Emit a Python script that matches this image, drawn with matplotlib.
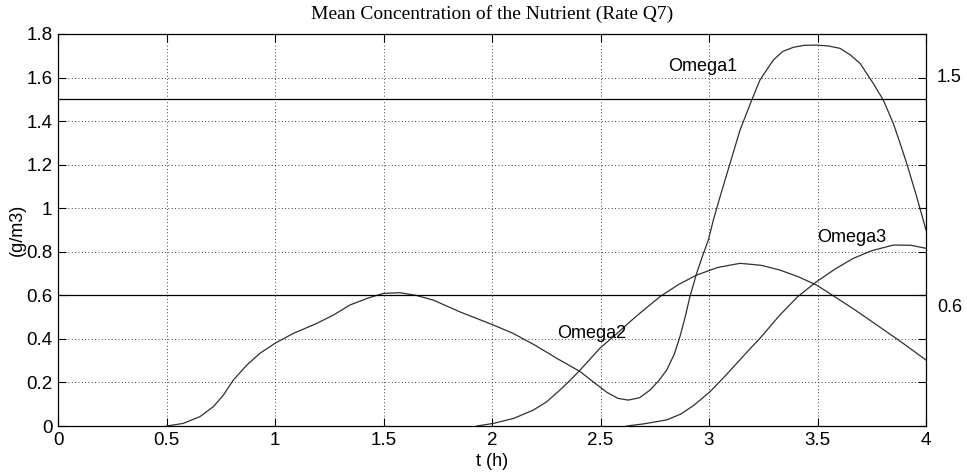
import matplotlib.pyplot as plt

# Omega1
t1 = [0.5, 0.577, 0.654, 0.716, 0.762, 0.808, 0.87, 0.931, 1.0, 1.084, 1.192, 1.27,
      1.346, 1.43, 1.50, 1.576, 1.65, 1.73, 1.85, 2.006, 2.098, 2.20, 2.30, 2.406, 2.47,
      2.529, 2.58, 2.628, 2.68, 2.728, 2.77, 2.805, 2.84, 2.866, 2.89, 2.912, 2.943,
      2.97, 2.997, 3.02, 3.051, 3.097, 3.143, 3.197, 3.235, 3.296, 3.34, 3.389, 3.44,
      3.496, 3.55, 3.604, 3.65, 3.696, 3.757, 3.803, 3.849, 3.88, 3.911, 3.957, 4.0]
c1 = [0.0, 0.012, 0.043, 0.089, 0.142, 0.211, 0.28, 0.334, 0.38, 0.425, 0.471, 0.51,
      0.556, 0.588, 0.609, 0.612, 0.60, 0.578, 0.525, 0.464, 0.425, 0.37, 0.31, 0.25, 0.2,
      0.155, 0.127, 0.119, 0.13, 0.165, 0.21, 0.257, 0.33, 0.41, 0.50, 0.594, 0.701,
      0.78, 0.854, 0.946, 1.053, 1.206, 1.359, 1.497, 1.589, 1.68, 1.72, 1.739, 1.748,
      1.749, 1.745, 1.734, 1.705, 1.665, 1.573, 1.497, 1.39, 1.30, 1.206, 1.053, 0.90]

# Omega2
t2 = [1.93, 2.006, 2.10, 2.19, 2.25, 2.313, 2.36, 2.406, 2.50, 2.559, 2.66, 2.774,
      2.86, 2.943, 3.04, 3.143, 3.24, 3.327, 3.41, 3.496, 3.573, 3.67, 3.773, 3.88, 4.0]
c2 = [0.0, 0.012, 0.035, 0.073, 0.11, 0.165, 0.21, 0.257, 0.36, 0.41, 0.50, 0.594,
      0.65, 0.693, 0.728, 0.747, 0.738, 0.716, 0.686, 0.647, 0.598, 0.535, 0.464,
      0.39, 0.303]

# Omega3
t3 = [2.62, 2.70, 2.805, 2.87, 2.93, 3.005, 3.07, 3.128, 3.18, 3.235, 3.327, 3.41,
      3.496, 3.58, 3.665, 3.75, 3.85, 3.93, 4.0]
c3 = [0.0, 0.01, 0.028, 0.055, 0.095, 0.158, 0.225, 0.288, 0.345, 0.403, 0.51, 0.595,
      0.663, 0.72, 0.77, 0.805, 0.831, 0.83, 0.816]

limits = [1.5, 0.6]
labels = ["Omega1", "Omega2", "Omega3"]
label_pos = [(2.81, 1.61), (2.30, 0.385), (3.50, 0.825)]

fig = plt.figure(figsize=(9.67, 4.76), dpi=100)
ax = fig.add_axes([0.060, 0.105, 0.8976, 0.8236])

for t, c in [(t1, c1), (t2, c2), (t3, c3)]:
    ax.plot(t, c, color='#303030', lw=0.9)
for v in limits:
    ax.axhline(v, color='black', lw=0.9)

for name, (x, y) in zip(labels, label_pos):
    ax.text(x, y, name, fontsize=13, family='Liberation Sans', va='bottom', ha='left')

ax.text(4.05, 1.60, "1.5", fontsize=13, family='Liberation Sans', va='center')
ax.text(4.05, 0.545, "0.6", fontsize=13, family='Liberation Sans', va='center')

ax.set_xlim(0, 4)
ax.set_ylim(0, 1.8)
ax.set_xticks([0, 0.5, 1, 1.5, 2, 2.5, 3, 3.5, 4])
ax.set_xticklabels(["0", "0.5", "1", "1.5", "2", "2.5", "3", "3.5", "4"])
ax.set_yticks([0, 0.2, 0.4, 0.6, 0.8, 1.0, 1.2, 1.4, 1.6, 1.8])
ax.set_yticklabels(["0", "0.2", "0.4", "0.6", "0.8", "1", "1.2", "1.4", "1.6", "1.8"])
ax.grid(True, color='black', linestyle=(0, (1, 3)), lw=0.6)
ax.tick_params(direction='in', length=6, width=0.8, top=True, right=True,
               labelsize=13.5, pad=4)
for lbl in ax.get_xticklabels() + ax.get_yticklabels():
    lbl.set_family('Liberation Sans')
for s in ax.spines.values():
    s.set_linewidth(0.9)

ax.set_title("Mean Concentration of the Nutrient (Rate Q7)", family='Liberation Serif',
             fontsize=14, pad=11)
ax.set_xlabel("t (h)", family='Liberation Sans', fontsize=13, labelpad=3)
ax.set_ylabel("(g/m3)", family='Liberation Sans', fontsize=13, labelpad=0)

fig.savefig("out.png", dpi=100)
